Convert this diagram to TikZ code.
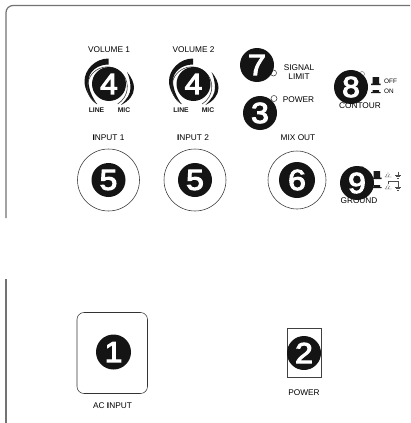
\documentclass[tikz,border=0pt]{standalone}
\usepackage{fontspec}
\setmainfont{Liberation Sans}
\newfontfamily\numfont[FakeBold=3.6,FakeStretch=1.1]{Liberation Sans}
\tikzset{
  numdisc/.style={circle,fill=black!92,text=white,inner sep=0pt,minimum size=#1,font=\numfont\fontsize{29}{29}\selectfont},
  numdisc/.default=34pt,
  lbl/.style={inner sep=0pt,font=\fontsize{8.3}{9.2}\selectfont,text=black,align=center},
  smalllbl/.style={inner sep=0pt,font=\fontsize{6.8}{7.5}\selectfont\bfseries,text=black!90},
  tiny/.style={inner sep=0pt,font=\fontsize{6.4}{7}\selectfont,text=black},
  panel/.style={draw=black!55,line width=1.2pt},
  thin line/.style={draw=black!80,line width=0.55pt},
  jack/.style={circle,draw=black!80,line width=0.55pt,inner sep=0pt,minimum size=#1},
}
\newcommand{\knobmark}{%
  \fill[black!92] (-0.5,-25.5) .. controls (-14,-25.5) and (-24.5,-14) .. (-24.5,-3)
     .. controls (-24.5,6) and (-19,15) .. (-12,20)
     .. controls (-17,13) and (-20.5,5) .. (-20.5,-3)
     .. controls (-20.5,-12) and (-12,-19.5) .. (-0.5,-19.5) -- cycle;
  \fill[black!92] (18,-12) .. controls (23,-6) and (25,-1) .. (25,4)
     .. controls (25,11) and (20,17) .. (12,21)
     .. controls (18,15) and (21.5,10) .. (21.5,4)
     .. controls (21.5,-2) and (20,-8) .. (18,-12) -- cycle;
  \draw[thin line] (-12,20) arc[start angle=121,end angle=419,radius=20];
}
\newcommand{\hatoff}[2]{\fill[black!90] (#1+1.5,#2) rectangle (#1+8,#2+6.5) (#1,#2+6.5) rectangle (#1+9.5,#2+8);}
\newcommand{\haton}[2]{\fill[black!90] (#1+1.5,#2) rectangle (#1+8,#2+2) (#1,#2+2) rectangle (#1+9.5,#2+3.2);}
\newcommand{\chassis}[2]{\draw[black!70,line width=0.3pt] (#1-3.5,#2+3) -- (#1+3.5,#2+3) (#1-2.5,#2+3) -- (#1-1,#2) (#1,#2+3) -- (#1+1.5,#2) (#1,#2) -- (#1,#2-2);}
\newcommand{\earth}[2]{\draw[black!70,line width=0.3pt] (#1,#2-3.5) -- (#1,#2) (#1-3,#2) -- (#1+3,#2) (#1-2,#2+1.5) -- (#1+2,#2+1.5) (#1-1,#2+3) -- (#1+1,#2+3);}
\begin{document}
\begin{tikzpicture}[x=1pt,y=-1pt]
\useasboundingbox (0,0) rectangle (410,423);
\fill[white] (0,0) rectangle (410,423);
% panel outlines
\draw[panel] (410,5.5) -- (13,5.5) arc[start angle=270,end angle=180,radius=7] -- (6,218);
\draw[panel] (6,279) -- (6,423);
% knobs
\foreach \kx in {109,193.5}{
  \begin{scope}[shift={(\kx,84)}]\knobmark\end{scope}
}
\node[numdisc] (k1) at (109,84) {4};
\node[numdisc] (k2) at (193.5,84) {4};
\node[lbl] (v1) at (109,49.5) {VOLUME 1};
\node[lbl] (v2) at (193.5,49.5) {VOLUME 2};
\node[smalllbl] (l1) at (96.5,110.5) {LINE};
\node[smalllbl] (m1) at (124,110.5) {MIC};
\node[smalllbl] (l2) at (181,110.5) {LINE};
\node[smalllbl] (m2) at (208,110.5) {MIC};
% jacks
\node[lbl] (i1) at (108.5,137.5) {{\bfseries I}NPUT 1};
\node[lbl] (i2) at (193,137.5) {{\bfseries I}NPUT 2};
\node[lbl] (mo) at (298,137.5) {MIX OUT};
\node[jack=62pt] (j1) at (108.5,180) {};
\node[jack=62pt] (j2) at (195,180) {};
\node[jack=58pt] (j3) at (297,180) {};
\node[numdisc] (n5a) at (j1) {5};
\node[numdisc] (n5b) at (j2) {5};
\node[numdisc=36pt] (n6) at (j3) {6};
% LEDs
\node[circle,draw=black!80,line width=0.5pt,minimum size=6pt,inner sep=0pt] (led1) at (273.5,73) {};
\node[circle,draw=black!80,line width=0.5pt,minimum size=6pt,inner sep=0pt] (led2) at (274,98.5) {};
\node[circle,draw=black!60,line width=0.4pt,minimum size=5pt,inner sep=0pt] (led3) at (362,74) {};
\node[circle,draw=black!60,line width=0.4pt,minimum size=5pt,inner sep=0pt] (led4) at (362,169) {};
\node[numdisc] (n7) at (257,65) {7};
\node[numdisc] (n3) at (260,113) {3};
\node[lbl] (sl) at (299,72.5) {SIGNAL\\LIMIT};
\node[lbl] (pw) at (298.5,100) {POWER};
% contour
\node[lbl] (co) at (360,106) {CONTOUR};
\node[numdisc] (n8) at (351,87) {8};
\hatoff{371}{77}
\haton{371}{90}
\node[tiny,anchor=west] (off) at (384,81) {OFF};
\node[tiny,anchor=west] (on) at (384,91) {ON};
% ground
\node[lbl] (gr) at (359,201) {GROUND};
\node[numdisc] (n9) at (357,183) {9};
\hatoff{372}{171}
\haton{372}{185}
\chassis{388}{174}
\earth{398}{175}
\chassis{388}{186}
\earth{398}{187}
\draw[black!70,line width=0.3pt] (388,184) -- (388,181) -- (398,181) -- (398,183.5);
% power section
\draw[thin line,rounded corners=7pt] (77,312.5) rectangle (147.5,393.5);
\node[numdisc=35pt] (n1) at (113.5,352) {1};
\node[lbl] (ac) at (112.5,406) {AC {\bfseries I}NPUT};
\draw[draw=black!75,line width=0.7pt] (287.5,328.5) rectangle (321,377.5);
\node[numdisc] (n2) at (304,353) {2};
\node[lbl] (pw2) at (304,392.5) {POWER};
\end{tikzpicture}
\end{document}
